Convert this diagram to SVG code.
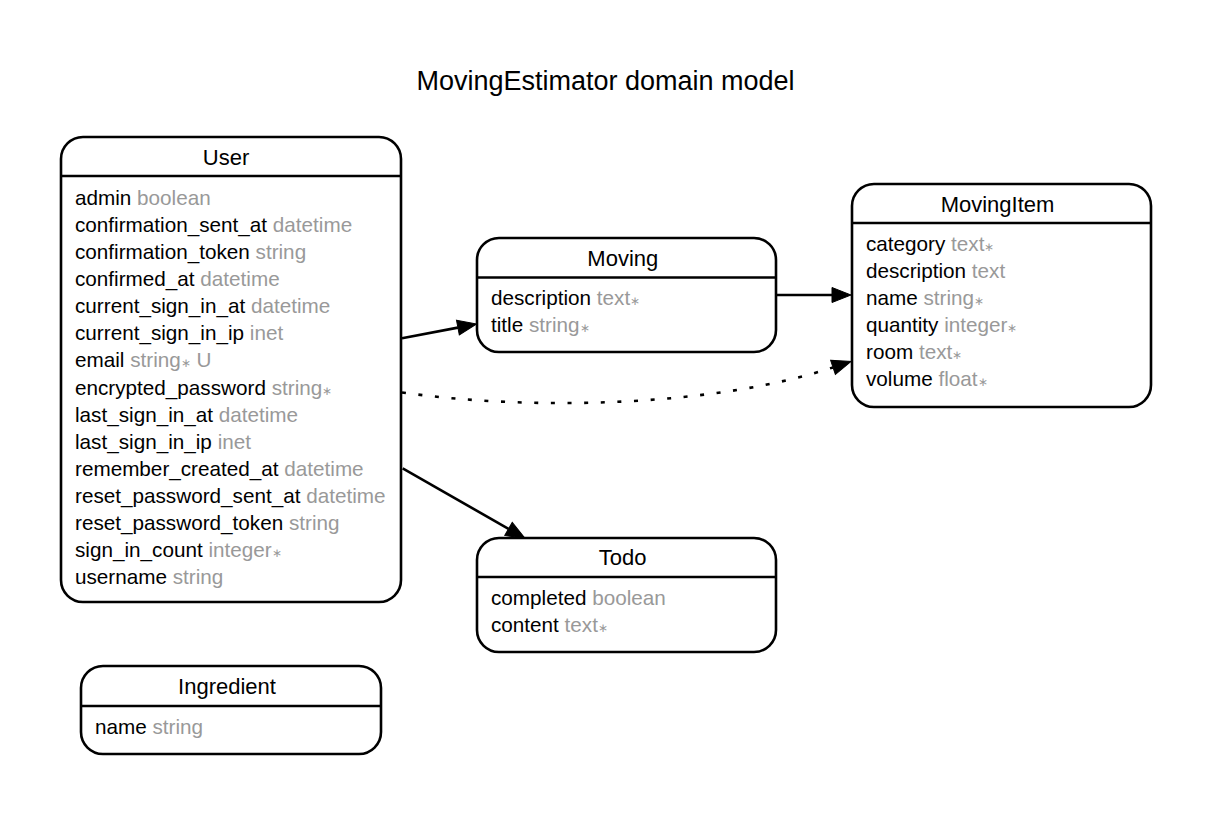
<svg xmlns="http://www.w3.org/2000/svg" width="1213" height="815" viewBox="0 0 1213 815">
<defs>
<style>
text{font-family:"Liberation Sans",Arial,Helvetica,sans-serif;fill:#000}
.title{font-size:27px}
.hd{font-size:22px;text-anchor:middle}
.at{font-size:20.7px}
.ty{fill:#999999}
.st{font-size:12px;fill:#999999}
.box{fill:#fff;stroke:#000;stroke-width:2.6}
.div{stroke:#000;stroke-width:2.6}
.edge{fill:none;stroke:#000;stroke-width:2.6}
.dot{stroke-dasharray:4 12.6}
</style>
<marker id="arr" markerWidth="22" markerHeight="18" refX="0" refY="7.5" orient="auto" markerUnits="userSpaceOnUse" overflow="visible">
<path d="M0,0 L19,7.5 L0,15 Z" fill="#000" stroke="#000" stroke-width="1"/>
</marker>
</defs>
<rect width="1213" height="815" fill="#fff"/>
<text class="title" x="605.5" y="90" text-anchor="middle">MovingEstimator domain model</text>

<g id="connectors">
<path class="edge" d="M402,338.3 L457.9,327.6" marker-end="url(#arr)"/>
<path class="edge" d="M777,295 L832,295" marker-end="url(#arr)"/>
<path class="edge dot" d="M402,392.5 C540,412 720,405 833,367.4" marker-end="url(#arr)"/>
<path class="edge" d="M402.7,468.3 L508.5,528.9" marker-end="url(#arr)"/>
</g>

<g id="User">
<rect class="box" x="61" y="137" width="340" height="465" rx="22"/>
<line class="div" x1="61" y1="176" x2="401" y2="176"/>
<text class="hd" x="226" y="165">User</text>
<text class="at" x="75" y="205">admin <tspan class="ty">boolean</tspan></text>
<text class="at" x="75" y="232.1">confirmation_sent_at <tspan class="ty">datetime</tspan></text>
<text class="at" x="75" y="259.1">confirmation_token <tspan class="ty">string</tspan></text>
<text class="at" x="75" y="286.2">confirmed_at <tspan class="ty">datetime</tspan></text>
<text class="at" x="75" y="313.3">current_sign_in_at <tspan class="ty">datetime</tspan></text>
<text class="at" x="75" y="340.4">current_sign_in_ip <tspan class="ty">inet</tspan></text>
<text class="at" x="75" y="367.4">email <tspan class="ty">string</tspan><tspan class="st">∗</tspan><tspan class="ty"> U</tspan></text>
<text class="at" x="75" y="394.5">encrypted_password <tspan class="ty">string</tspan><tspan class="st">∗</tspan></text>
<text class="at" x="75" y="421.6">last_sign_in_at <tspan class="ty">datetime</tspan></text>
<text class="at" x="75" y="448.6">last_sign_in_ip <tspan class="ty">inet</tspan></text>
<text class="at" x="75" y="475.7">remember_created_at <tspan class="ty">datetime</tspan></text>
<text class="at" x="75" y="502.8">reset_password_sent_at <tspan class="ty">datetime</tspan></text>
<text class="at" x="75" y="529.8">reset_password_token <tspan class="ty">string</tspan></text>
<text class="at" x="75" y="556.9">sign_in_count <tspan class="ty">integer</tspan><tspan class="st">∗</tspan></text>
<text class="at" x="75" y="584">username <tspan class="ty">string</tspan></text>
</g>

<g id="Moving">
<rect class="box" x="477" y="238" width="299" height="114" rx="22"/>
<line class="div" x1="477" y1="277.5" x2="776" y2="277.5"/>
<text class="hd" x="622.8" y="266">Moving</text>
<text class="at" x="491" y="305">description <tspan class="ty">text</tspan><tspan class="st">∗</tspan></text>
<text class="at" x="491" y="332">title <tspan class="ty">string</tspan><tspan class="st">∗</tspan></text>
</g>

<g id="MovingItem">
<rect class="box" x="852" y="184" width="299" height="223" rx="22"/>
<line class="div" x1="852" y1="223" x2="1151" y2="223"/>
<text class="hd" x="997.5" y="212">MovingItem</text>
<text class="at" x="866" y="251">category <tspan class="ty">text</tspan><tspan class="st">∗</tspan></text>
<text class="at" x="866" y="278">description <tspan class="ty">text</tspan></text>
<text class="at" x="866" y="305">name <tspan class="ty">string</tspan><tspan class="st">∗</tspan></text>
<text class="at" x="866" y="332">quantity <tspan class="ty">integer</tspan><tspan class="st">∗</tspan></text>
<text class="at" x="866" y="359">room <tspan class="ty">text</tspan><tspan class="st">∗</tspan></text>
<text class="at" x="866" y="386">volume <tspan class="ty">float</tspan><tspan class="st">∗</tspan></text>
</g>

<g id="Todo">
<rect class="box" x="477" y="538" width="299" height="114" rx="22"/>
<line class="div" x1="477" y1="577" x2="776" y2="577"/>
<text class="hd" x="622.7" y="565">Todo</text>
<text class="at" x="491" y="605">completed <tspan class="ty">boolean</tspan></text>
<text class="at" x="491" y="632">content <tspan class="ty">text</tspan><tspan class="st">∗</tspan></text>
</g>

<g id="Ingredient">
<rect class="box" x="81" y="666" width="300" height="88" rx="22"/>
<line class="div" x1="81" y1="706" x2="381" y2="706"/>
<text class="hd" x="227" y="694">Ingredient</text>
<text class="at" x="95" y="734">name <tspan class="ty">string</tspan></text>
</g>
</svg>
